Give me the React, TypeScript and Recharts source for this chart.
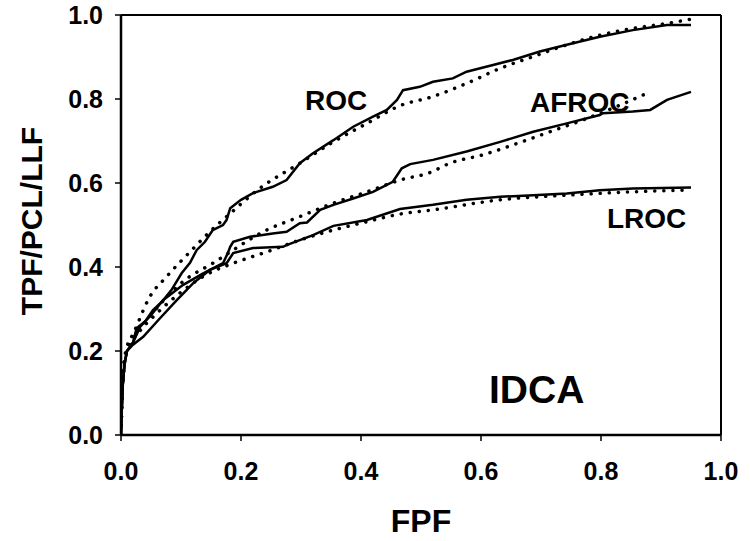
import React from 'react';
import {
  ComposedChart,
  Line,
  XAxis,
  YAxis,
  ReferenceLine,
} from 'recharts';

const rocX = [0, 0.001, 0.003, 0.006, 0.01, 0.02, 0.026, 0.04, 0.053, 0.07, 0.084, 0.101, 0.115, 0.126, 0.14, 0.153, 0.17, 0.176, 0.182, 0.2, 0.22, 0.253, 0.276, 0.298, 0.32, 0.354, 0.387, 0.42, 0.443, 0.46, 0.47, 0.498, 0.52, 0.553, 0.576, 0.62, 0.653, 0.698, 0.743, 0.798, 0.853, 0.91, 0.95];
const rocY = [0, 0.05, 0.12, 0.17, 0.2, 0.22, 0.254, 0.27, 0.297, 0.32, 0.345, 0.385, 0.41, 0.44, 0.46, 0.488, 0.5, 0.512, 0.54, 0.56, 0.576, 0.591, 0.607, 0.647, 0.671, 0.702, 0.734, 0.758, 0.774, 0.798, 0.821, 0.829, 0.841, 0.849, 0.865, 0.881, 0.893, 0.913, 0.929, 0.948, 0.964, 0.976, 0.976];

const rocFitX = [0, 0.002, 0.005, 0.01, 0.02, 0.048, 0.076, 0.115, 0.16, 0.176, 0.232, 0.298, 0.354, 0.41, 0.465, 0.52, 0.576, 0.632, 0.687, 0.743, 0.798, 0.853, 0.91, 0.95];
const rocFitY = [0, 0.1, 0.17, 0.21, 0.24, 0.329, 0.377, 0.436, 0.5, 0.52, 0.588, 0.647, 0.698, 0.742, 0.784, 0.806, 0.837, 0.873, 0.901, 0.929, 0.952, 0.968, 0.98, 0.99];

const afrocX = [0, 0.001, 0.003, 0.006, 0.01, 0.02, 0.032, 0.05, 0.07, 0.103, 0.137, 0.17, 0.178, 0.182, 0.187, 0.215, 0.253, 0.276, 0.298, 0.31, 0.332, 0.354, 0.387, 0.42, 0.453, 0.468, 0.482, 0.52, 0.576, 0.632, 0.687, 0.743, 0.798, 0.803, 0.853, 0.882, 0.91, 0.95];
const afrocY = [0, 0.05, 0.12, 0.17, 0.2, 0.22, 0.258, 0.285, 0.321, 0.357, 0.385, 0.409, 0.433, 0.448, 0.46, 0.472, 0.48, 0.484, 0.504, 0.506, 0.536, 0.548, 0.563, 0.579, 0.603, 0.635, 0.645, 0.655, 0.675, 0.698, 0.722, 0.742, 0.762, 0.766, 0.77, 0.774, 0.798, 0.817];

const afrocFitX = [0, 0.002, 0.005, 0.01, 0.02, 0.048, 0.103, 0.153, 0.243, 0.298, 0.354, 0.41, 0.465, 0.515, 0.548, 0.603, 0.66, 0.715, 0.77, 0.826, 0.882];
const afrocFitY = [0, 0.1, 0.17, 0.2, 0.23, 0.282, 0.365, 0.409, 0.488, 0.52, 0.552, 0.579, 0.607, 0.625, 0.647, 0.667, 0.694, 0.722, 0.75, 0.782, 0.817];

const lrocX = [0, 0.001, 0.003, 0.006, 0.01, 0.02, 0.037, 0.065, 0.093, 0.12, 0.148, 0.176, 0.187, 0.22, 0.27, 0.276, 0.32, 0.354, 0.41, 0.465, 0.52, 0.576, 0.632, 0.687, 0.743, 0.798, 0.853, 0.95];
const lrocY = [0, 0.05, 0.12, 0.17, 0.2, 0.215, 0.234, 0.278, 0.321, 0.361, 0.393, 0.409, 0.433, 0.445, 0.448, 0.452, 0.476, 0.498, 0.512, 0.538, 0.548, 0.56, 0.567, 0.571, 0.575, 0.583, 0.587, 0.589];

const lrocFitX = [0, 0.002, 0.005, 0.01, 0.03, 0.06, 0.1, 0.14, 0.187, 0.243, 0.3, 0.354, 0.41, 0.465, 0.52, 0.632, 0.743, 0.853, 0.943];
const lrocFitY = [0, 0.1, 0.16, 0.2, 0.245, 0.29, 0.34, 0.38, 0.409, 0.436, 0.465, 0.488, 0.508, 0.526, 0.536, 0.56, 0.571, 0.579, 0.583];

const axisTicks = [0, 0.2, 0.4, 0.6, 0.8, 1.0];

const toRows = (xs: number[], ys: number[]) => xs.map((x, i) => ({ x, y: ys[i] }));

const FONT = "'Liberation Sans', Arial, Helvetica, sans-serif";
const tickStyle = { fontSize: 25, fontWeight: 700, fill: '#000', fontFamily: FONT };

export default function App() {
  const solid = { stroke: '#000', strokeWidth: 2.5, dot: false, isAnimationActive: false, type: 'linear' as const };
  const dotted = {
    stroke: '#000',
    strokeWidth: 3.5,
    strokeDasharray: '0.1 9',
    strokeLinecap: 'round' as const,
    dot: false,
    isAnimationActive: false,
    type: 'monotone' as const,
  };

  return (
    <div style={{ position: 'absolute', left: 0, top: 0, width: 750, height: 541, background: '#fff' }}>
      <ComposedChart width={750} height={541} margin={{ top: 15, right: 29, bottom: 0, left: 0 }}>
        <XAxis
          type="number"
          dataKey="x"
          domain={[0, 1]}
          ticks={axisTicks}
          tickFormatter={(v: number) => v.toFixed(1)}
          tick={tickStyle}
          tickSize={6}
          tickMargin={21}
          height={106}
          axisLine={{ stroke: '#000', strokeWidth: 2.5 }}
          tickLine={{ stroke: '#000', strokeWidth: 1.5 }}
          allowDataOverflow
        />
        <YAxis
          type="number"
          dataKey="y"
          domain={[0, 1]}
          ticks={axisTicks}
          tickFormatter={(v: number) => v.toFixed(1)}
          tick={tickStyle}
          tickSize={6}
          tickMargin={12}
          width={121}
          axisLine={{ stroke: '#000', strokeWidth: 2.5 }}
          tickLine={{ stroke: '#000', strokeWidth: 1.5 }}
          allowDataOverflow
        />
        <ReferenceLine y={1} stroke="#000" strokeWidth={2} />
        <ReferenceLine x={1} stroke="#000" strokeWidth={2} />
        <Line data={toRows(rocFitX, rocFitY)} dataKey="y" {...dotted} />
        <Line data={toRows(afrocFitX, afrocFitY)} dataKey="y" {...dotted} />
        <Line data={toRows(lrocFitX, lrocFitY)} dataKey="y" {...dotted} />
        <Line data={toRows(rocX, rocY)} dataKey="y" {...solid} />
        <Line data={toRows(afrocX, afrocY)} dataKey="y" {...solid} />
        <Line data={toRows(lrocX, lrocY)} dataKey="y" {...solid} />
      </ComposedChart>
      <svg
        width={750}
        height={541}
        style={{ position: 'absolute', left: 0, top: 0, pointerEvents: 'none' }}
        fontFamily={FONT}
        fontWeight={700}
      >
        <text x={305} y={110} fontSize={28}>ROC</text>
        <text x={530} y={112} fontSize={28}>AFROC</text>
        <text x={607} y={228} fontSize={28}>LROC</text>
        <text x={489} y={403} fontSize={39}>IDCA</text>
        <text x={421} y={532} fontSize={32} textAnchor="middle">FPF</text>
        <text x={42} y={221} fontSize={30} textAnchor="middle" transform="rotate(-90 42 221)">
          TPF/PCL/LLF
        </text>
      </svg>
    </div>
  );
}
